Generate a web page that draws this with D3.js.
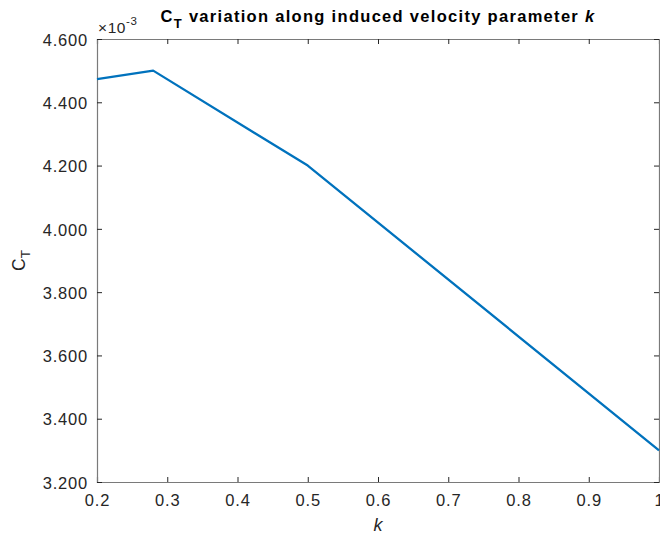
<!DOCTYPE html>
<html>
<head>
<meta charset="utf-8">
<script src="https://cdn.jsdelivr.net/npm/d3@7"></script>
<style>
  body { margin: 0; background: #fff; }
  svg { display: block; font-family: "Liberation Sans", Arial, sans-serif; }
</style>
</head>
<body>
<div id="chart"></div>
<script>
// k values and thrust coefficient
var kValues = [0.2, 0.28, 0.5, 1.0];
var ctValues = [4.473e-3, 4.5e-3, 4.2e-3, 3.3e-3];
var xTicks = [0.2, 0.3, 0.4, 0.5, 0.6, 0.7, 0.8, 0.9, 1];
var yTicks = [3.2e-3, 3.4e-3, 3.6e-3, 3.8e-3, 4.0e-3, 4.2e-3, 4.4e-3, 4.6e-3];

var W = 660, H = 536;
var margin = {top: 39, right: 1, bottom: 54, left: 97};
var width = W - margin.left - margin.right,
    height = H - margin.top - margin.bottom;

var svg = d3.select("#chart").append("svg")
    .attr("width", W)
    .attr("height", H);

var g = svg.append("g").attr("transform", "translate(" + margin.left + "," + margin.top + ")");

var x = d3.scaleLinear().domain([0.2, 1]).range([0, width]);
var y = d3.scaleLinear().domain([3.2e-3, 4.6e-3]).range([height, 0]);

var axisColor = "#262626";
var fmtX = function (d) { return d === 1 ? "1" : d3.format(".1f")(d); };
var fmtY = function (d) { return d3.format(".3f")(d * 1e3); };

// bottom axis with inward ticks
var bx = g.append("g").attr("transform", "translate(0," + height + ")")
    .call(d3.axisBottom(x).tickValues(xTicks).tickSize(-5).tickPadding(9).tickFormat(fmtX));
// top axis ticks only
var tx = g.append("g")
    .call(d3.axisTop(x).tickValues(xTicks).tickSize(-5).tickFormat(""));
// left axis
var ly = g.append("g")
    .call(d3.axisLeft(y).tickValues(yTicks).tickSize(-5).tickPadding(9).tickFormat(fmtY));
// right axis ticks only
var ry = g.append("g").attr("transform", "translate(" + width + ",0)")
    .call(d3.axisRight(y).tickValues(yTicks).tickSize(-5).tickFormat(""));

[bx, tx, ly, ry].forEach(function (a) {
    a.select(".domain").attr("stroke", "#7a7a7a").attr("stroke-width", 1.2);
    a.selectAll(".tick line").attr("stroke", axisColor).attr("stroke-width", 1);
    a.selectAll(".tick text").attr("fill", axisColor)
        .style("font-size", "16.5px").style("letter-spacing", "0.8px")
        .style("font-family", "Liberation Sans, Arial, sans-serif");
});
bx.selectAll(".tick text").attr("dy", "0.92em");
ly.selectAll(".tick text").attr("dy", "0.38em");

// data line
var line = d3.line()
    .x(function (d, i) { return x(kValues[i]); })
    .y(function (d) { return y(d); });

g.append("path")
    .datum(ctValues)
    .attr("fill", "none")
    .attr("stroke", "#0072BD")
    .attr("stroke-width", 2.3)
    .attr("stroke-linejoin", "round")
    .attr("d", line);

// exponent label
var ex = svg.append("text")
    .attr("x", margin.left + 1)
    .attr("y", 33)
    .attr("fill", axisColor)
    .style("font-size", "15.5px")
    .style("letter-spacing", "0.6px");
ex.append("tspan").text("\u00d710");
ex.append("tspan").attr("dy", -8).style("font-size", "11.5px").text("-3");

// x label
svg.append("text")
    .attr("x", margin.left + width / 2)
    .attr("y", 531)
    .attr("text-anchor", "middle")
    .attr("fill", axisColor)
    .style("font-size", "18px")
    .style("font-style", "italic")
    .text("k");

// y label
var yl = svg.append("text")
    .attr("transform", "translate(25," + (margin.top + height / 2) + ") rotate(-90)")
    .attr("text-anchor", "middle")
    .attr("fill", axisColor)
    .style("font-size", "17.5px");
yl.append("tspan").text("C");
yl.append("tspan").attr("dy", 5).style("font-size", "13.5px").text("T");

// title
var t = svg.append("text")
    .attr("x", margin.left + width / 2)
    .attr("y", 21.5)
    .attr("text-anchor", "middle")
    .attr("fill", "#000")
    .style("font-size", "16.5px")
    .style("font-weight", "bold")
    .style("letter-spacing", "1.3px");
t.append("tspan").text("C");
t.append("tspan").attr("dy", 6).style("font-size", "13px").text("T");
t.append("tspan").attr("dy", -6).text(" variation along induced velocity parameter ");
t.append("tspan").style("font-style", "italic").text("k");
</script>
</body>
</html>
